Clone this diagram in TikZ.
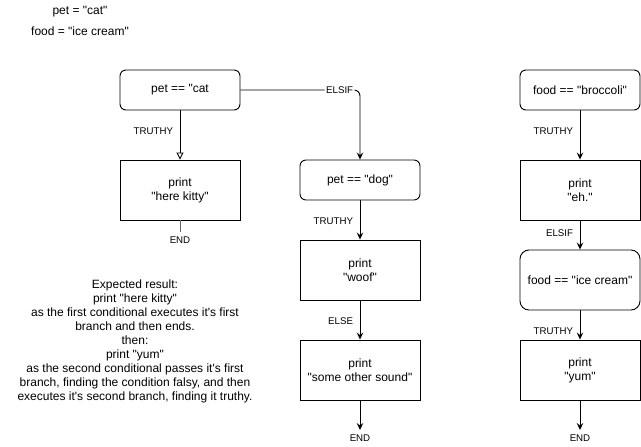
\documentclass[tikz,border=0pt]{standalone}
\usepackage{fontspec}
\setmainfont{Liberation Sans}[Ligatures=TeXOff]
\usetikzlibrary{arrows.meta,positioning}

\begin{document}
\begin{tikzpicture}
  [x=1pt,y=-1pt,line width=0.9pt,every node/.style={font=\fontsize{12}{14}\selectfont,align=center}]
 \tikzset{cond/.style={draw,rounded corners=6pt,minimum width=120pt,minimum height=40pt,inner sep=0pt},
  act/.style={draw,minimum width=120pt,minimum height=60pt,inner sep=0pt},
  lbl/.style={font=\fontsize{9.7}{11}\selectfont,inner sep=1.5pt},
  arr/.style={-{Stealth[length=7pt,width=6.5pt,inset=2.5pt]}}}
 \useasboundingbox (0,0) rectangle (641,447);

 \node (v1) at (80,12) {pet = "cat"};
 \node (v2) at (80,31) {food = "ice cream"};

 \node[cond] (c1) at (180,90)  {pet == "cat};
 \node[act]  (p1) at (180,190) {print\\"here kitty"};
 \node[cond] (c2) at (360,180) {pet == "dog"};
  \node[act]  (p2) at (360,270) {print\\"woof"};
 \node[act]  (p3) at (360,370) {print\\"some other sound"};
 \node[cond] (c3) at (580,90)  {food == "broccoli"};
 \node[act]  (p4) at (580,190) {print\\"eh."};
  \node[cond,minimum height=60pt,rounded corners=9pt] (c4) at (580,280) {food == "ice cream"};
 \node[act]  (p5) at (580,370) {print\\"yum"};

 \node (res) at (135,341) {Expected result:\\print "here kitty"\\as the first conditional executes it's first\\branch and then ends.\\then:\\print "yum"\\as the second conditional passes it's first\\branch, finding the condition falsy, and then\\executes it's second branch, finding it truthy.};

 \coordinate (e1) at (180,232);
 \coordinate (e2) at (360,430);
 \coordinate (e3) at (580,430);
 \foreach \e in {e1,e2,e3}
    \node[lbl,below=3pt of \e] (t\e) {END};

 \draw[-{Triangle[open,length=7pt,width=7pt]}] (c1) -- node[lbl,pos=0.42,left=5pt] {TRUTHY} (p1);
 \draw[gray!80!black] (p1) -- (e1);
 \draw[arr,rounded corners=6pt] (c1.east) -- node[lbl,fill=white,pos=0.83] {ELSIF} (c2.north |- c1.east) -- (c2);

 \foreach \from/\to/\txt/\p in {c2/p2/TRUTHY/0.52,p2/p3/ELSE/0.52,c3/p4/TRUTHY/0.42,p4/c4/ELSIF/0.42,c4/p5/TRUTHY/0.72}
    \draw[arr] (\from) -- node[lbl,pos=\p,left=5pt] {\txt} (\to);
 \foreach \from/\to in {p3/e2,p5/e3}
    \draw[arr] (\from) -- (\to);

\end{tikzpicture}
\end{document}
